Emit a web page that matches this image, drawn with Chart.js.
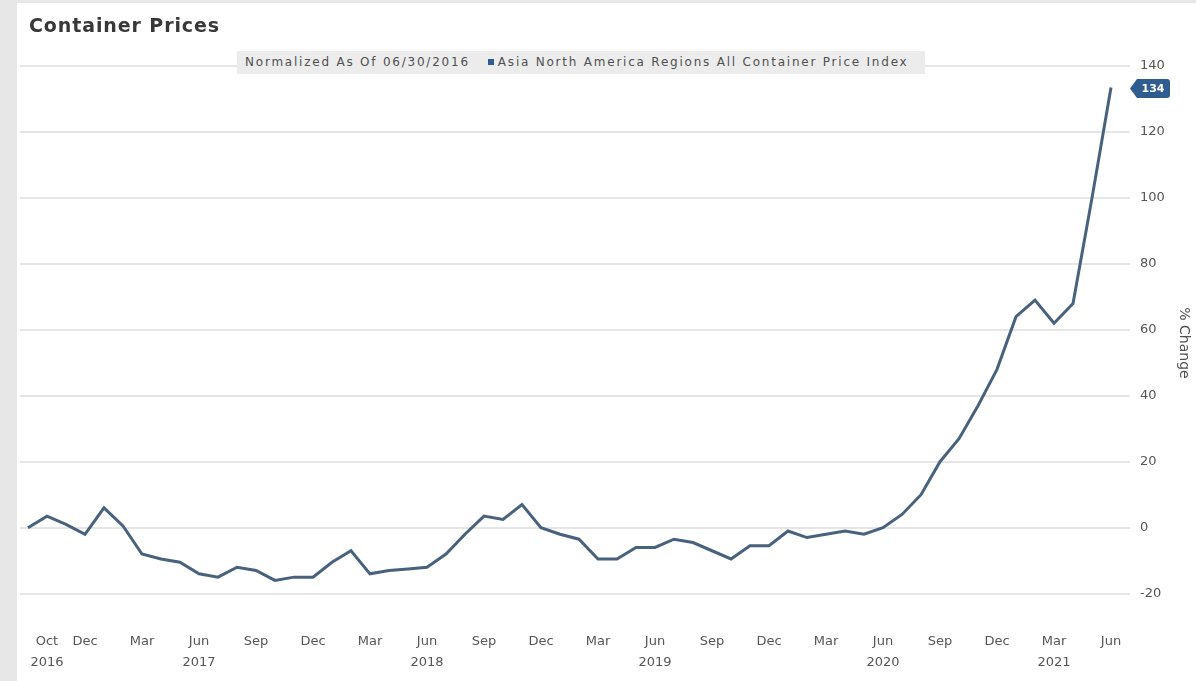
<!DOCTYPE html>
<html>
<head>
<meta charset="utf-8">
<title>Container Prices</title>
<script src="https://cdn.jsdelivr.net/npm/chart.js@4.4.1/dist/chart.umd.min.js"></script>
<style>
  html, body { margin: 0; padding: 0; }
  body {
    width: 1196px; height: 681px; position: relative; overflow: hidden;
    background: #e7e7e7; font-family: "DejaVu Sans", sans-serif;
  }
  .panel { position: absolute; left: 17px; top: 3px; right: 0; bottom: 0; background: #fff; }
  .chart-wrap { position: absolute; left: 0; top: 0; width: 1196px; height: 681px; }
  .title {
    position: absolute; left: 29px; top: 14px;
    font-weight: bold; font-size: 19px; letter-spacing: 0.9px; color: #383838;
  }
  .legend {
    position: absolute; left: 237px; top: 51px; width: 688px; height: 23px;
    box-sizing: border-box; padding-left: 8px;
    background: #ececec; color: #505050; font-size: 12px; letter-spacing: 1.78px;
    line-height: 23px; white-space: nowrap;
  }
  .legend .swatch {
    display: inline-block; width: 6px; height: 6px; background: #2f5c8f;
    margin: 0 4px 1px 18px;
  }
</style>
</head>
<body>
<div class="panel"></div>
<div class="chart-wrap"><canvas id="container-chart"></canvas></div>
<div class="title">Container Prices</div>
<div class="legend">Normalized As Of 06/30/2016<span class="swatch"></span>Asia North America Regions All Container Price Index</div>

<script>
// Months covered by the series (Sep 2016 .. Jun 2021)
const monthNames = ["Jan", "Feb", "Mar", "Apr", "May", "Jun", "Jul", "Aug", "Sep", "Oct", "Nov", "Dec"];
const monthLabels = [];
for (let k = 0; k < 58; k++) {
  const m = (8 + k) % 12;
  const yr = 2016 + Math.floor((8 + k) / 12);
  monthLabels.push(monthNames[m] + " " + yr);
}

// % change vs 06/30/2016, one value per month
const indexValues = [
  0, 3.5, 1, -2, 6, 0.5, -8, -9.5, -10.5, -14,
  -15, -12, -13, -16, -15, -15, -10.5, -7, -14, -13,
  -12.5, -12, -8, -2, 3.5, 2.5, 7, 0, -2, -3.5,
  -9.5, -9.5, -6, -6, -3.5, -4.5, -7, -9.5, -5.5, -5.5,
  -1, -3, -2, -1, -2, 0, 4, 10, 20, 27,
  37, 48, 64, 69, 62, 68, 100, 133.5
];

// x-axis labels (month index -> label lines)
const tickPositions = [1, 3, 6, 9, 12, 15, 18, 21, 24, 27, 30, 33, 36, 39, 42, 45, 48, 51, 54, 57];
const tickLabels = [
  ["Oct", "2016"], ["Dec"], ["Mar"], ["Jun", "2017"], ["Sep"], ["Dec"], ["Mar"], ["Jun", "2018"],
  ["Sep"], ["Dec"], ["Mar"], ["Jun", "2019"], ["Sep"], ["Dec"], ["Mar"], ["Jun", "2020"],
  ["Sep"], ["Dec"], ["Mar", "2021"], ["Jun"]
];

const yTicks = [-20, 0, 20, 40, 60, 80, 100, 120, 140];

// tag with the latest value on the right axis
const lastValueTag = {
  id: "lastValueTag",
  afterDraw(chart) {
    const ctx = chart.ctx;
    const v = indexValues[indexValues.length - 1];
    const y = chart.scales.y.getPixelForValue(v) + 1;
    const x = chart.chartArea.right;
    const h = 19;
    ctx.save();
    ctx.fillStyle = "#2f5d90";
    ctx.beginPath();
    ctx.moveTo(x, y);
    ctx.lineTo(x + 7, y - h / 2);
    ctx.lineTo(x + 37, y - h / 2);
    ctx.quadraticCurveTo(x + 40, y - h / 2, x + 40, y - h / 2 + 3);
    ctx.lineTo(x + 40, y + h / 2 - 3);
    ctx.quadraticCurveTo(x + 40, y + h / 2, x + 37, y + h / 2);
    ctx.lineTo(x + 7, y + h / 2);
    ctx.closePath();
    ctx.fill();
    ctx.fillStyle = "#ffffff";
    ctx.font = "bold 11px 'DejaVu Sans', sans-serif";
    ctx.textAlign = "center";
    ctx.textBaseline = "middle";
    ctx.fillText(String(Math.round(v)), x + 23, y + 1);
    ctx.restore();
  }
};

const ctx = document.getElementById("container-chart").getContext("2d");
new Chart(ctx, {
  type: "line",
  data: {
    datasets: [{
      label: "Asia North America Regions All Container Price Index",
      data: indexValues.map((v, i) => ({ x: i, y: v })),
      borderColor: "#48627e",
      borderWidth: 3,
      pointRadius: 0,
      tension: 0,
      fill: false
    }]
  },
  options: {
    responsive: true,
    maintainAspectRatio: false,
    animation: false,
    layout: { padding: { top: 66, left: 20, right: 0, bottom: 0 } },
    plugins: {
      legend: { display: false },
      tooltip: {
        callbacks: {
          title: (items) => monthLabels[items[0].parsed.x]
        }
      }
    },
    scales: {
      x: {
        type: "linear",
        min: -0.42,
        max: 58,
        grid: { display: false },
        border: { display: false },
        afterBuildTicks: (scale) => {
          scale.ticks = tickPositions.map((p) => ({ value: p }));
        },
        afterFit: (scale) => { scale.height = 61; },
        ticks: {
          autoSkip: false,
          maxRotation: 0,
          minRotation: 0,
          padding: 4,
          color: "#555",
          font: { family: "DejaVu Sans", size: 13, lineHeight: 1.55 },
          callback: (value) => {
            const i = tickPositions.indexOf(value);
            return i >= 0 ? tickLabels[i] : null;
          }
        }
      },
      y: {
        position: "right",
        min: -28,
        max: 140,
        afterBuildTicks: (scale) => {
          scale.ticks = yTicks.map((v) => ({ value: v }));
        },
        afterFit: (scale) => { scale.width = 66; },
        grid: { color: "#e6e6e6", lineWidth: 2, drawTicks: false },
        border: { display: false },
        ticks: {
          padding: 10,
          color: "#555",
          font: { family: "DejaVu Sans", size: 13 }
        },
        title: {
          display: true,
          text: "% Change",
          color: "#505050",
          padding: { top: 4, bottom: 0 },
          font: { family: "DejaVu Sans", size: 14 }
        }
      }
    }
  },
  plugins: [lastValueTag]
});
</script>
</body>
</html>
